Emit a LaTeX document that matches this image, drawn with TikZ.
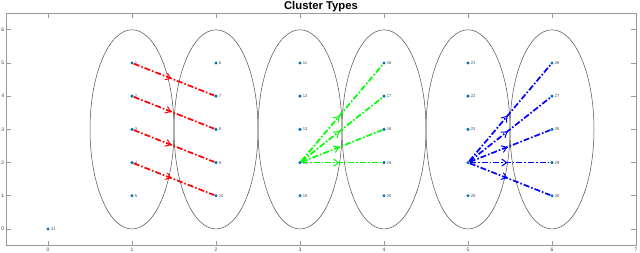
\documentclass[tikz,border=0pt]{standalone}
\usepackage{fontspec}
\setmainfont{Liberation Sans}
\usetikzlibrary{arrows.meta,decorations.markings}
\definecolor{mblue}{rgb}{0,0.447,0.741}
\definecolor{axgray}{gray}{0.6}
\tikzset{
  axis/.style={draw=axgray, line width=0.7pt},
  tick/.style={font=\fontsize{5}{5}\selectfont, text=black!75, inner sep=0.5pt},
  ell/.style={draw=black!70, line width=0.5pt},
  pt/.style={circle, fill=mblue, inner sep=0pt, minimum size=3.4pt},
  lab/.style={font=\fontsize{4.2}{4.2}\selectfont, text=black!70, inner sep=0.4pt, label distance=0.3pt},
  arr/.style={color=#1, line width=1.7pt, dash pattern=on 6pt off 2pt on 1.6pt off 2pt,
    postaction={decorate},
    decoration={markings, mark=at position 0.47 with {\arrow[solid, line width=1pt]{Straight Barb[length=5pt,width=7pt]}}}},
  titlestyle/.style={font=\bfseries\fontsize{11.3}{12}\selectfont, inner sep=0pt}
}
\begin{document}
\begin{tikzpicture}[x=1pt,y=1pt]
\useasboundingbox (0,0) rectangle (640,253);
\node[titlestyle] (title) at (321,246.5) {Cluster Types};
\begin{scope}[shift={(48,24)}, x=84pt, y=33.2pt]
  % axes
  \draw[axis] (-0.5,-0.5) rectangle (7,6.5);
  \foreach \i in {0,...,7} {
    \draw[axis] (\i,-0.5) -- ++(0,5pt);
    \draw[axis] (\i,6.5) -- ++(0,-5pt);
    \node[tick, anchor=north] (xt\i) at (\i,-0.5) [yshift=-1.6pt] {\i};
  }
  \foreach \j in {0,...,6} {
    \draw[axis] (-0.5,\j) -- ++(5pt,0);
    \draw[axis] (7,\j) -- ++(-5pt,0);
    \node[tick, anchor=east] (yt\j) at (-0.5,\j) [xshift=-1.2pt] {\j};
  }
  % ellipses
  \foreach \c in {1,...,6} {
    \draw[ell] (\c,3) ellipse [x radius=42pt, y radius=99.6pt];
  }
  % points
  \foreach \c in {1,...,6} {
    \foreach \r in {1,...,5} {
      \pgfmathtruncatemacro{\n}{5*(\c-1)+\r}
      \pgfmathtruncatemacro{\yy}{6-\r}
      \node[pt, label={[lab]right:\n}] (p\n) at (\c,\yy) {};
    }
  }
  \node[pt, label={[lab]right:31}] (p31) at (0,0) {};
  % red arrows
  \draw[arr=red] (p1) -- (p7);
  \draw[arr=red] (p2) -- (p8);
  \draw[arr=red] (p3) -- (p9);
  \draw[arr=red] (p4) -- (p10);
  % green arrows
  \draw[arr=green] (p14) -- (p16);
  \draw[arr=green] (p14) -- (p17);
  \draw[arr=green] (p14) -- (p18);
  \draw[arr=green] (p14) -- (p19);
  % blue arrows
  \draw[arr=blue] (p24) -- (p26);
  \draw[arr=blue] (p24) -- (p27);
  \draw[arr=blue] (p24) -- (p28);
  \draw[arr=blue] (p24) -- (p29);
  \draw[arr=blue] (p24) -- (p30);
\end{scope}
\end{tikzpicture}
\end{document}
